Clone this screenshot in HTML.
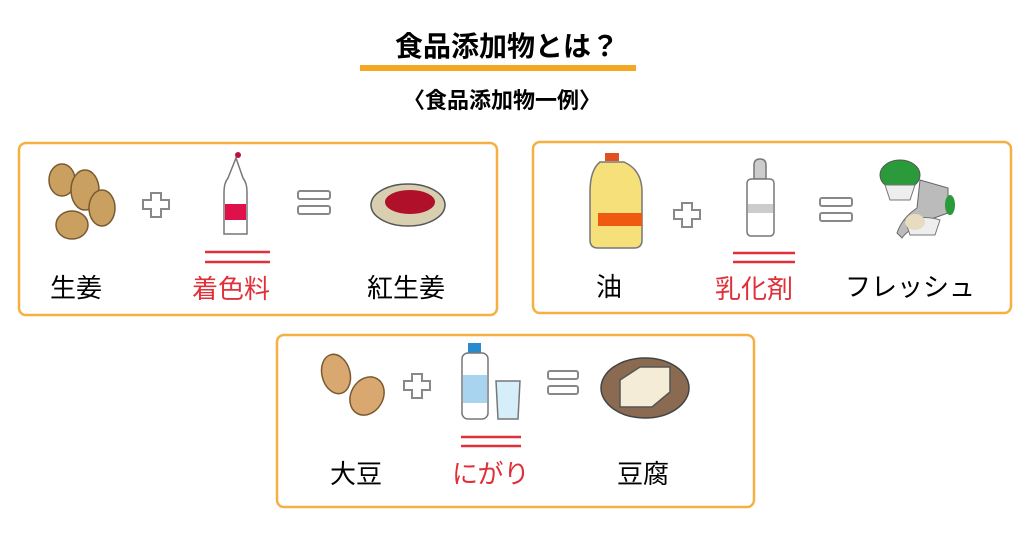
<!DOCTYPE html>
<html><head><meta charset="utf-8"><style>
body{margin:0;width:1024px;height:546px;background:#fff;overflow:hidden;font-family:"Liberation Sans","Noto Sans CJK JP",sans-serif}
.t{position:absolute;white-space:nowrap;line-height:1}
</style></head><body>
<svg width="1024" height="546" style="position:absolute;left:0;top:0">
<rect x="360" y="65" width="276" height="6" fill="#f5a623"/>
<g fill="none" stroke="#f5b041" stroke-width="2.5">
<rect x="19" y="143" width="478" height="172" rx="7"/>
<rect x="533" y="142" width="478" height="171" rx="7"/>
<rect x="277" y="335" width="477" height="172" rx="7"/>
</g>
<g fill="#fff" stroke="#888" stroke-width="2">
<path d="M151 193h10v7h8v9h-8v8h-10v-8h-8v-9h8z"/>
<path d="M682 203h10v7h8v9h-8v8h-10v-8h-8v-9h8z"/>
<path d="M412 374h10v7h8v9h-8v8h-10v-8h-8v-9h8z"/>
<rect x="298" y="191" width="32" height="8" rx="2"/><rect x="298" y="206" width="32" height="8" rx="2"/>
<rect x="820" y="198" width="32" height="8" rx="2"/><rect x="820" y="213" width="32" height="8" rx="2"/>
<rect x="548" y="371" width="30" height="8" rx="2"/><rect x="548" y="386" width="30" height="8" rx="2"/>
</g>
<g stroke="#e0303a" stroke-width="2.5">
<line x1="205" y1="252" x2="270" y2="252"/><line x1="205" y1="262" x2="270" y2="262"/>
<line x1="733" y1="253" x2="795" y2="253"/><line x1="733" y1="262" x2="795" y2="262"/>
<line x1="461" y1="437" x2="521" y2="437"/><line x1="461" y1="446" x2="521" y2="446"/>
</g>
<g fill="#c9a060" stroke="#7a5a30" stroke-width="1.5">
<ellipse cx="62" cy="180" rx="13" ry="16"/><ellipse cx="85" cy="190" rx="14" ry="20"/>
<ellipse cx="72" cy="225" rx="16" ry="14"/><ellipse cx="102" cy="208" rx="13" ry="18"/>
</g>
<path d="M236 158 L228 178 Q224 183 224 192 V234 H247 V192 Q247 183 243 178 Z" fill="#fff" stroke="#777" stroke-width="1.5"/>
<rect x="225" y="204" width="21" height="16" fill="#e0104a"/>
<circle cx="238" cy="155" r="3" fill="#c01040"/>
<ellipse cx="408" cy="205" rx="37" ry="21" fill="#d8ceb0" stroke="#555" stroke-width="1.5"/>
<ellipse cx="410" cy="202" rx="25" ry="12" fill="#b0102a"/>
<rect x="605" y="153" width="14" height="8" fill="#e05020"/>
<path d="M600 162 h24 q18 8 18 30 v48 q0 8-8 8 h-36 q-8 0-8-8 v-48 q0-22 10-30z" fill="#f5e07a" stroke="#777" stroke-width="1.5"/>
<rect x="598" y="213" width="44" height="13" fill="#f05a10"/>
<path d="M754 165 q0-6 6-6 q6 0 6 6 v14 h-12z" fill="#ccc" stroke="#777" stroke-width="1.5"/>
<rect x="747" y="179" width="27" height="57" rx="4" fill="#fff" stroke="#777" stroke-width="1.5"/>
<rect x="748" y="204" width="25" height="9" fill="#ccc"/>
<ellipse cx="900" cy="175" rx="20" ry="15" fill="#2a9a3a" stroke="#555"/>
<path d="M885 185 h30 l-5 15 h-20z" fill="#eee" stroke="#777"/>
<path d="M920 180 l28 8 v25 l-28 10 q-15 10-18 15 l-5-5 q5-15 20-25z" fill="#bbb" stroke="#666"/>
<path d="M905 220 q20-5 35 0 l-5 15 h-25z" fill="#eee" stroke="#777"/>
<ellipse cx="915" cy="222" rx="10" ry="8" fill="#e8dcc0"/>
<ellipse cx="950" cy="205" rx="5" ry="10" fill="#2a9a3a"/>
<g fill="#d9a870" stroke="#7a5a30" stroke-width="1.5">
<ellipse cx="336" cy="374" rx="14" ry="20" transform="rotate(-15 336 374)"/>
<ellipse cx="367" cy="396" rx="16" ry="20" transform="rotate(30 367 396)"/>
</g>
<rect x="468" y="343" width="13" height="10" fill="#2a8ad0"/>
<rect x="462" y="353" width="26" height="66" rx="6" fill="#fff" stroke="#777" stroke-width="1.5"/>
<rect x="463" y="375" width="24" height="28" fill="#a8d4f0"/>
<path d="M496 381 h24 l-2 38 h-20z" fill="#d6eefa" stroke="#777" stroke-width="1.5"/>
<ellipse cx="645" cy="388" rx="44" ry="30" fill="#8a6a50" stroke="#444" stroke-width="1.5"/>
<path d="M620 380 l20-13 h30 v25 l-18 15 h-32z" fill="#f4ecd6" stroke="#555" stroke-width="1.5"/>
</svg>
<div class="t" style="left:0;width:1014px;text-align:center;top:33px;font-size:28px;font-weight:bold">食品添加物とは？</div>
<div class="t" style="left:0;width:1004px;text-align:center;top:90px;font-size:22px;font-weight:bold">〈食品添加物一例〉</div>
<div class="t" style="left:50px;top:275px;font-size:26px">生姜</div>
<div class="t" style="left:192px;top:276px;font-size:26px;color:#e0303a">着色料</div>
<div class="t" style="left:367px;top:275px;font-size:26px">紅生姜</div>
<div class="t" style="left:596px;top:274px;font-size:26px">油</div>
<div class="t" style="left:715px;top:276px;font-size:26px;color:#e0303a">乳化剤</div>
<div class="t" style="left:845px;top:274px;font-size:26px">フレッシュ</div>
<div class="t" style="left:330px;top:461px;font-size:26px">大豆</div>
<div class="t" style="left:452px;top:461px;font-size:26px;color:#e0303a">にがり</div>
<div class="t" style="left:617px;top:461px;font-size:26px">豆腐</div>
</body></html>
